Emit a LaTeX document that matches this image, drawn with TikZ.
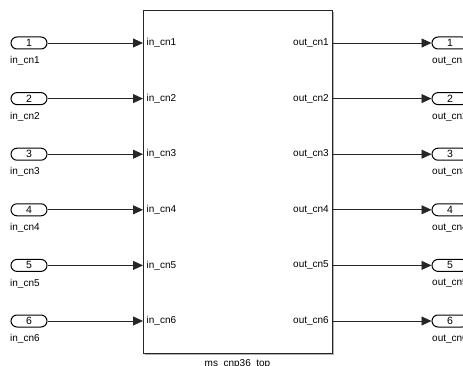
\documentclass[tikz,border=0pt]{standalone}
\usepackage{fontspec}
\setmainfont{Liberation Sans}
\usetikzlibrary{arrows.meta,shapes.misc}
\begin{document}
\begin{tikzpicture}[x=1pt,y=-1pt,
  port/.style={draw=black, line width=1pt, rounded rectangle, minimum width=36pt, minimum height=12pt, inner sep=0pt, font=\fontsize{10.5}{10}\selectfont},
  plabel/.style={font=\fontsize{10}{10}\selectfont, inner sep=0pt},
  blabel/.style={font=\fontsize{10}{10}\selectfont, inner sep=0pt},
  sig/.style={draw=black!85, line width=0.8pt, -{Triangle[length=10pt,width=9pt]}},
  blockbox/.style={draw=black!85, line width=1pt, fill=white, inner sep=0pt}
]
\useasboundingbox (0,0) rectangle (463,366);
\clip (0,0) rectangle (463,366);
% block with shadow
\fill[gray!60] (145,12) rectangle (334,355);
\node[blockbox, minimum width=189pt, minimum height=343pt, anchor=north west] (blk) at (143,10) {};
\node[plabel, anchor=north] (cap) at (237.5,359.5) {ms\_cnp36\_top};
\foreach \k/\y in {1/43, 2/98.6, 3/154.2, 4/209.8, 5/265.4, 6/321} {
  \node[port] (in\k) at (29,\y) {\k};
  \node[plabel, anchor=west] (inl\k) at (10,\y+18) {in\_cn\k};
  \coordinate (bi\k) at (143,\y);
  \coordinate (bo\k) at (332,\y);
  \node[blabel, anchor=west] (bil\k) at (146.5,\y) {in\_cn\k};
  \node[blabel, anchor=east] (bol\k) at (329,\y) {out\_cn\k};
  \node[port] (out\k) at (450,\y) {\k};
  \node[plabel] (outl\k) at (450,\y+18) {out\_cn\k};
  \draw[sig] (in\k.east) -- (bi\k);
  \draw[sig] (bo\k) -- (out\k.west);
}
\end{tikzpicture}
\end{document}
